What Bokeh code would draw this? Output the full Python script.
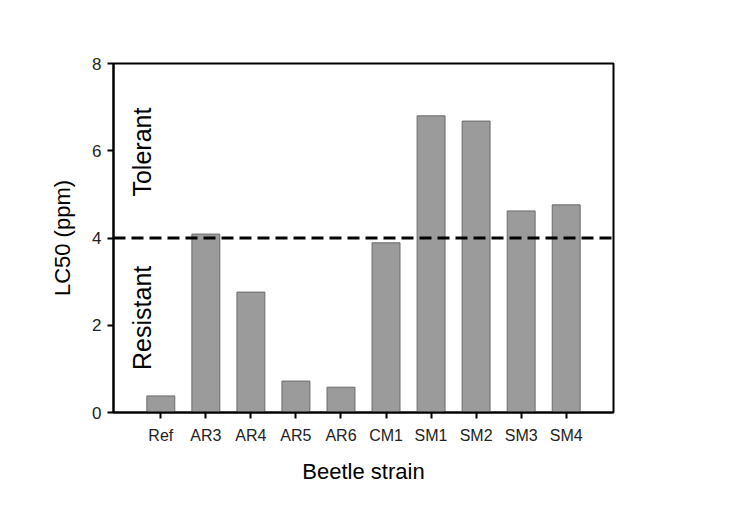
import math
from bokeh.plotting import figure
from bokeh.models import FactorRange, Range1d, Span, ColumnDataSource, FixedTicker
from bokeh.transform import dodge
from bokeh.core.properties import value
from bokeh.embed import file_html
from bokeh.resources import INLINE

strains = ["Ref", "AR3", "AR4", "AR5", "AR6", "CM1", "SM1", "SM2", "SM3", "SM4"]
lc50 = [0.38, 4.09, 2.76, 0.72, 0.58, 3.89, 6.80, 6.68, 4.62, 4.76]
threshold = 4.0
y_ticks = [0, 2, 4, 6, 8]
zone_labels = ["Tolerant", "Resistant"]
zone_y = [5.97, 2.17]

FONT = "Liberation Sans"

p = figure(
    x_range=FactorRange(factors=strains, range_padding=0.11, range_padding_units="percent"),
    y_range=Range1d(0, 8),
    width=717, height=504,
    output_backend="svg", toolbar_location=None,
    min_border_left=113, min_border_right=104, min_border_top=63, min_border_bottom=92,
)

src = ColumnDataSource(dict(x=strains, top=lc50))
p.vbar(x="x", top="top", width=0.62, source=src,
       fill_color="#9b9b9b", line_color="#6a6a6a", line_width=1)

p.add_layout(Span(location=threshold, dimension="width", line_color="black",
                  line_width=3, line_dash="12 6"))

lab = ColumnDataSource(dict(x=[strains[0]] * 2, y=zone_y, text=zone_labels))
p.text(x=dodge("x", -0.42, range=p.x_range), y="y", text="text", source=lab,
       angle=math.pi / 2, text_align="center", text_baseline="middle",
       text_font=value(FONT), text_font_size="25px", text_color="black")

p.grid.visible = False
p.background_fill_color = "white"
p.border_fill_color = "white"
p.outline_line_color = "black"
p.outline_line_width = 2
p.outline_line_alpha = 1

p.yaxis.ticker = FixedTicker(ticks=y_ticks)
p.yaxis.minor_tick_line_color = None

for ax in (p.xaxis[0], p.yaxis[0]):
    ax.axis_line_width = 2
    ax.axis_line_color = "black"
    ax.major_tick_line_width = 2
    ax.major_tick_line_color = "black"
    ax.major_tick_out = 6
    ax.major_tick_in = 0
    ax.major_label_text_font = FONT
    ax.major_label_text_font_size = "16px"
    ax.major_label_text_color = "#222222"
    ax.axis_label_text_font = FONT
    ax.axis_label_text_font_size = "22px"
    ax.axis_label_text_font_style = "normal"
    ax.axis_label_text_color = "black"

p.yaxis.major_label_text_font_size = "17px"
p.xaxis.axis_label = "Beetle strain"
p.yaxis.axis_label = "LC50 (ppm)"
p.yaxis.axis_label_standoff = 14
p.xaxis.axis_label_standoff = 12
p.xaxis.major_label_standoff = 8
p.yaxis.major_label_standoff = 6

open("out.html", "w").write(file_html(p, INLINE))
